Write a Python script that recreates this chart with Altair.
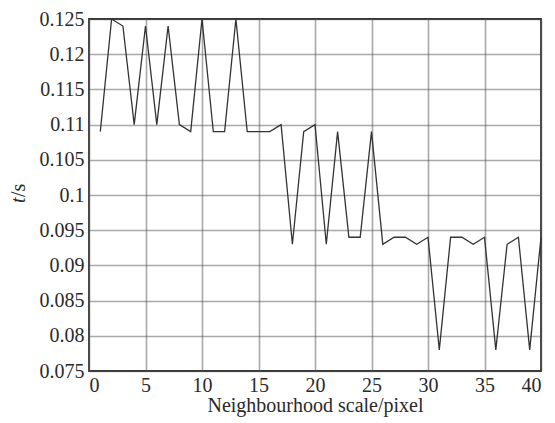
import altair as alt
import pandas as pd

scale_px = list(range(1, 41))
time_s = [0.109, 0.125, 0.124, 0.110, 0.124, 0.110, 0.124, 0.110, 0.109, 0.125,
          0.109, 0.109, 0.125, 0.109, 0.109, 0.109, 0.110, 0.093, 0.109, 0.110,
          0.093, 0.109, 0.094, 0.094, 0.109, 0.093, 0.094, 0.094, 0.093, 0.094,
          0.078, 0.094, 0.094, 0.093, 0.094, 0.078, 0.093, 0.094, 0.078, 0.094]
x_ticks = [0, 5, 10, 15, 20, 25, 30, 35, 40]
y_ticks = [0.075, 0.08, 0.085, 0.09, 0.095, 0.1, 0.105, 0.11, 0.115, 0.12, 0.125]
x_title = "Neighbourhood scale/pixel"
y_title_var = "t"
y_title_unit = "/s"

df = pd.DataFrame({"x": scale_px, "t": time_s})
one = pd.DataFrame({"a": [0]})
FONT = "Liberation Serif"
INK = "#2a2a2a"

line = alt.Chart(df).mark_line(color="#333333", strokeWidth=1.3).encode(
    x=alt.X("x:Q", scale=alt.Scale(domain=[0, 40], nice=False),
            axis=alt.Axis(values=x_ticks, title=x_title,
                          format="d", labelPadding=4, titlePadding=0)),
    y=alt.Y("t:Q", scale=alt.Scale(domain=[0.075, 0.125], nice=False, zero=False),
            axis=alt.Axis(values=y_ticks, title=None, labelExpr="format(datum.value, '.3~f')",
                          labelPadding=5)),
)

t_var = alt.Chart(one).mark_text(
    font=FONT, fontSize=20, fontStyle="italic", angle=270, align="left",
    baseline="middle", color=INK
).encode(x=alt.value(-70), y=alt.value(184), text=alt.value(y_title_var))

t_unit = alt.Chart(one).mark_text(
    font=FONT, fontSize=20, angle=270, align="left",
    baseline="middle", color=INK
).encode(x=alt.value(-70), y=alt.value(178), text=alt.value(y_title_unit))

chart = alt.layer(line, t_var, t_unit).properties(
    width=452, height=352,
    autosize=alt.AutoSizeParams(type="none"),
    padding={"left": 81, "top": 11, "right": 6, "bottom": 50},
).configure(background="white").configure_axis(
    labelFont=FONT, titleFont=FONT, labelFontSize=20, titleFontSize=20,
    labelColor=INK, titleColor=INK, titleFontWeight="normal",
    gridColor="#555555", gridDash=[1, 1], gridWidth=1.6, gridOpacity=1,
    domain=False, ticks=False,
).configure_view(stroke="#333333", strokeWidth=1.8)

chart.save("out.html", embed_options={"renderer": "svg", "actions": False})
